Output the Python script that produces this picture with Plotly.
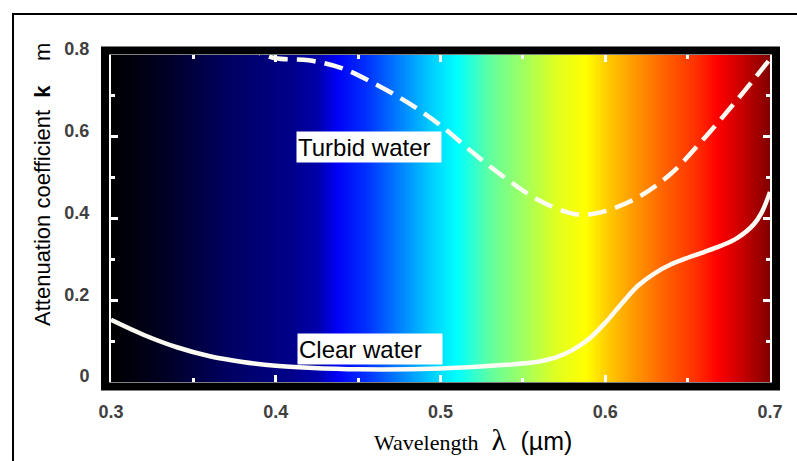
import plotly.graph_objects as go
import numpy as np

# ---- data ----
clear_wl = [0.30, 0.32, 0.34, 0.36, 0.38, 0.40, 0.42, 0.45, 0.50, 0.54, 0.56, 0.57, 0.58,
            0.59, 0.60, 0.61, 0.62, 0.63, 0.64, 0.65, 0.66, 0.67, 0.68, 0.69, 0.695, 0.70]
clear_k = [0.152, 0.115, 0.085, 0.063, 0.049, 0.040, 0.035, 0.031, 0.033, 0.042, 0.050, 0.060, 0.078,
           0.105, 0.145, 0.192, 0.236, 0.266, 0.288, 0.304, 0.318, 0.333, 0.352, 0.385, 0.415, 0.465]

turbid_wl = [0.38, 0.39, 0.40, 0.42, 0.44, 0.46, 0.48, 0.50, 0.52, 0.54, 0.56, 0.58, 0.59,
             0.60, 0.62, 0.64, 0.66, 0.68, 0.70]
turbid_k = [0.82, 0.805, 0.792, 0.787, 0.768, 0.730, 0.684, 0.628, 0.560, 0.497, 0.444, 0.412, 0.410,
            0.418, 0.452, 0.510, 0.596, 0.690, 0.790]

x_ticks = [0.3, 0.4, 0.5, 0.6, 0.7]
x_ticktext = ["0.3", "0.4", "0.5", "0.6", "0.7"]
y_ticks = [0, 0.2, 0.4, 0.6, 0.8]
y_ticktext = ["0", "0.2", "0.4", "0.6", "0.8"]

labels = ["Turbid water", "Clear water"]
label_x = [0.4566, 0.4572]
label_y = [0.574, 0.081]

# spectrum background (wavelength -> colour)
spec_wl = [0.300, 0.330, 0.370, 0.410, 0.425, 0.437, 0.455, 0.475, 0.495, 0.510, 0.530,
           0.550, 0.570, 0.588, 0.600, 0.615, 0.635, 0.655, 0.668, 0.685, 0.700]
spec_col = ["#000000", "#000020", "#000060", "#00008a", "#0000a8", "#0000f5", "#0030ff",
            "#0080ff", "#00d0ff", "#00ffff", "#60ffa0", "#a0ff60", "#e0ff20", "#ffff00",
            "#ffd000", "#ffa000", "#ff6400", "#ff3000", "#ff0000", "#c00000", "#800000"]

xmin, xmax = 0.3, 0.7
colorscale = [[(w - xmin) / (xmax - xmin), c] for w, c in zip(spec_wl, spec_col)]
grid_x = np.linspace(xmin, xmax, 401)

fig = go.Figure()
fig.add_trace(go.Heatmap(x=grid_x, y=[-0.5, 1.3], z=[grid_x, grid_x],
                         colorscale=colorscale, zmin=xmin, zmax=xmax,
                         showscale=False, hoverinfo="skip"))
fig.add_trace(go.Scatter(x=turbid_wl, y=turbid_k, mode="lines",
                         line=dict(color="#fbfbf3", width=4.5, dash="19px,9px", shape="spline"),
                         showlegend=False, hoverinfo="skip"))
fig.add_trace(go.Scatter(x=clear_wl, y=clear_k, mode="lines",
                         line=dict(color="#fbfbf3", width=4.5, shape="spline"),
                         showlegend=False, hoverinfo="skip"))

tickfont = dict(family="Liberation Sans", size=18, color="#404040", weight="bold")
fig.update_xaxes(range=[xmin, xmax], showgrid=False, zeroline=False,
                 tickmode="array", tickvals=x_ticks, ticktext=x_ticktext,
                 ticks="inside", ticklen=7, tickwidth=3, tickcolor="white",
                 minor=dict(ticks="inside", dtick=0.05, ticklen=4, tickwidth=3, tickcolor="white"),
                 showline=True, linecolor="white", linewidth=2, mirror="ticks",
                 tickfont=tickfont, ticklabelstandoff=12, automargin=False)
fig.update_yaxes(range=[0, 0.8], showgrid=False, zeroline=False,
                 tickmode="array", tickvals=y_ticks, ticktext=y_ticktext,
                 ticks="inside", ticklen=7, tickwidth=3, tickcolor="white",
                 minor=dict(ticks="inside", dtick=0.1, ticklen=4, tickwidth=3, tickcolor="white"),
                 showline=True, linecolor="white", linewidth=2, mirror="ticks",
                 tickfont=tickfont, ticklabelstandoff=16, ticklabelshift=-6, automargin=False)

annotations = []
for t, lx, ly in zip(labels, label_x, label_y):
    annotations.append(dict(x=lx, y=ly, xref="x", yref="y", text=t, showarrow=False,
                            font=dict(family="Liberation Sans", size=24, color="black"),
                            bgcolor="white", width=142, height=28, align="left",
                            borderpad=1, xanchor="center", yanchor="middle"))

annotations.append(dict(x=-0.105, y=0.605, xref="paper", yref="paper", textangle=-90,
                        text="Attenuation coefficient\u00a0\u00a0<b>k</b>\u00a0\u00a0\u00a0\u00a0m",
                        showarrow=False, xanchor="center", yanchor="middle",
                        font=dict(family="Liberation Sans", size=22, color="black")))
annotations.append(dict(x=0.549, y=-0.177, xref="paper", yref="paper",
                        text="<span style='font-family:Liberation Serif;font-size:22px'>Wavelength\u00a0</span>"
                             "<span style='font-family:Liberation Serif;font-size:30px'>\u00a0\u03bb\u00a0</span>"
                             "<span style='font-family:Liberation Sans;font-size:25px'>\u00a0(\u00b5m)</span>",
                        showarrow=False, xanchor="center", yanchor="middle",
                        font=dict(family="Liberation Serif", size=22, color="black")))

shapes = [
    dict(type="rect", xref="paper", yref="paper", x0=-0.0091, x1=1.0091, y0=-0.0138, y1=1.0138,
         line=dict(color="black", width=8), fillcolor="rgba(0,0,0,0)", layer="above"),
    dict(type="rect", xref="paper", yref="paper", x0=-0.1487, x1=1.06, y0=-0.26, y1=1.1254,
         line=dict(color="black", width=2), fillcolor="rgba(0,0,0,0)", layer="above"),
]

fig.update_layout(width=797, height=461, margin=dict(l=111, r=27, t=55, b=79),
                  paper_bgcolor="white", plot_bgcolor="white",
                  annotations=annotations, shapes=shapes, showlegend=False)

fig.write_html("out.html", config=dict(displayModeBar=False),
               post_script="document.body.style.margin='0';document.body.style.overflow='hidden';")
